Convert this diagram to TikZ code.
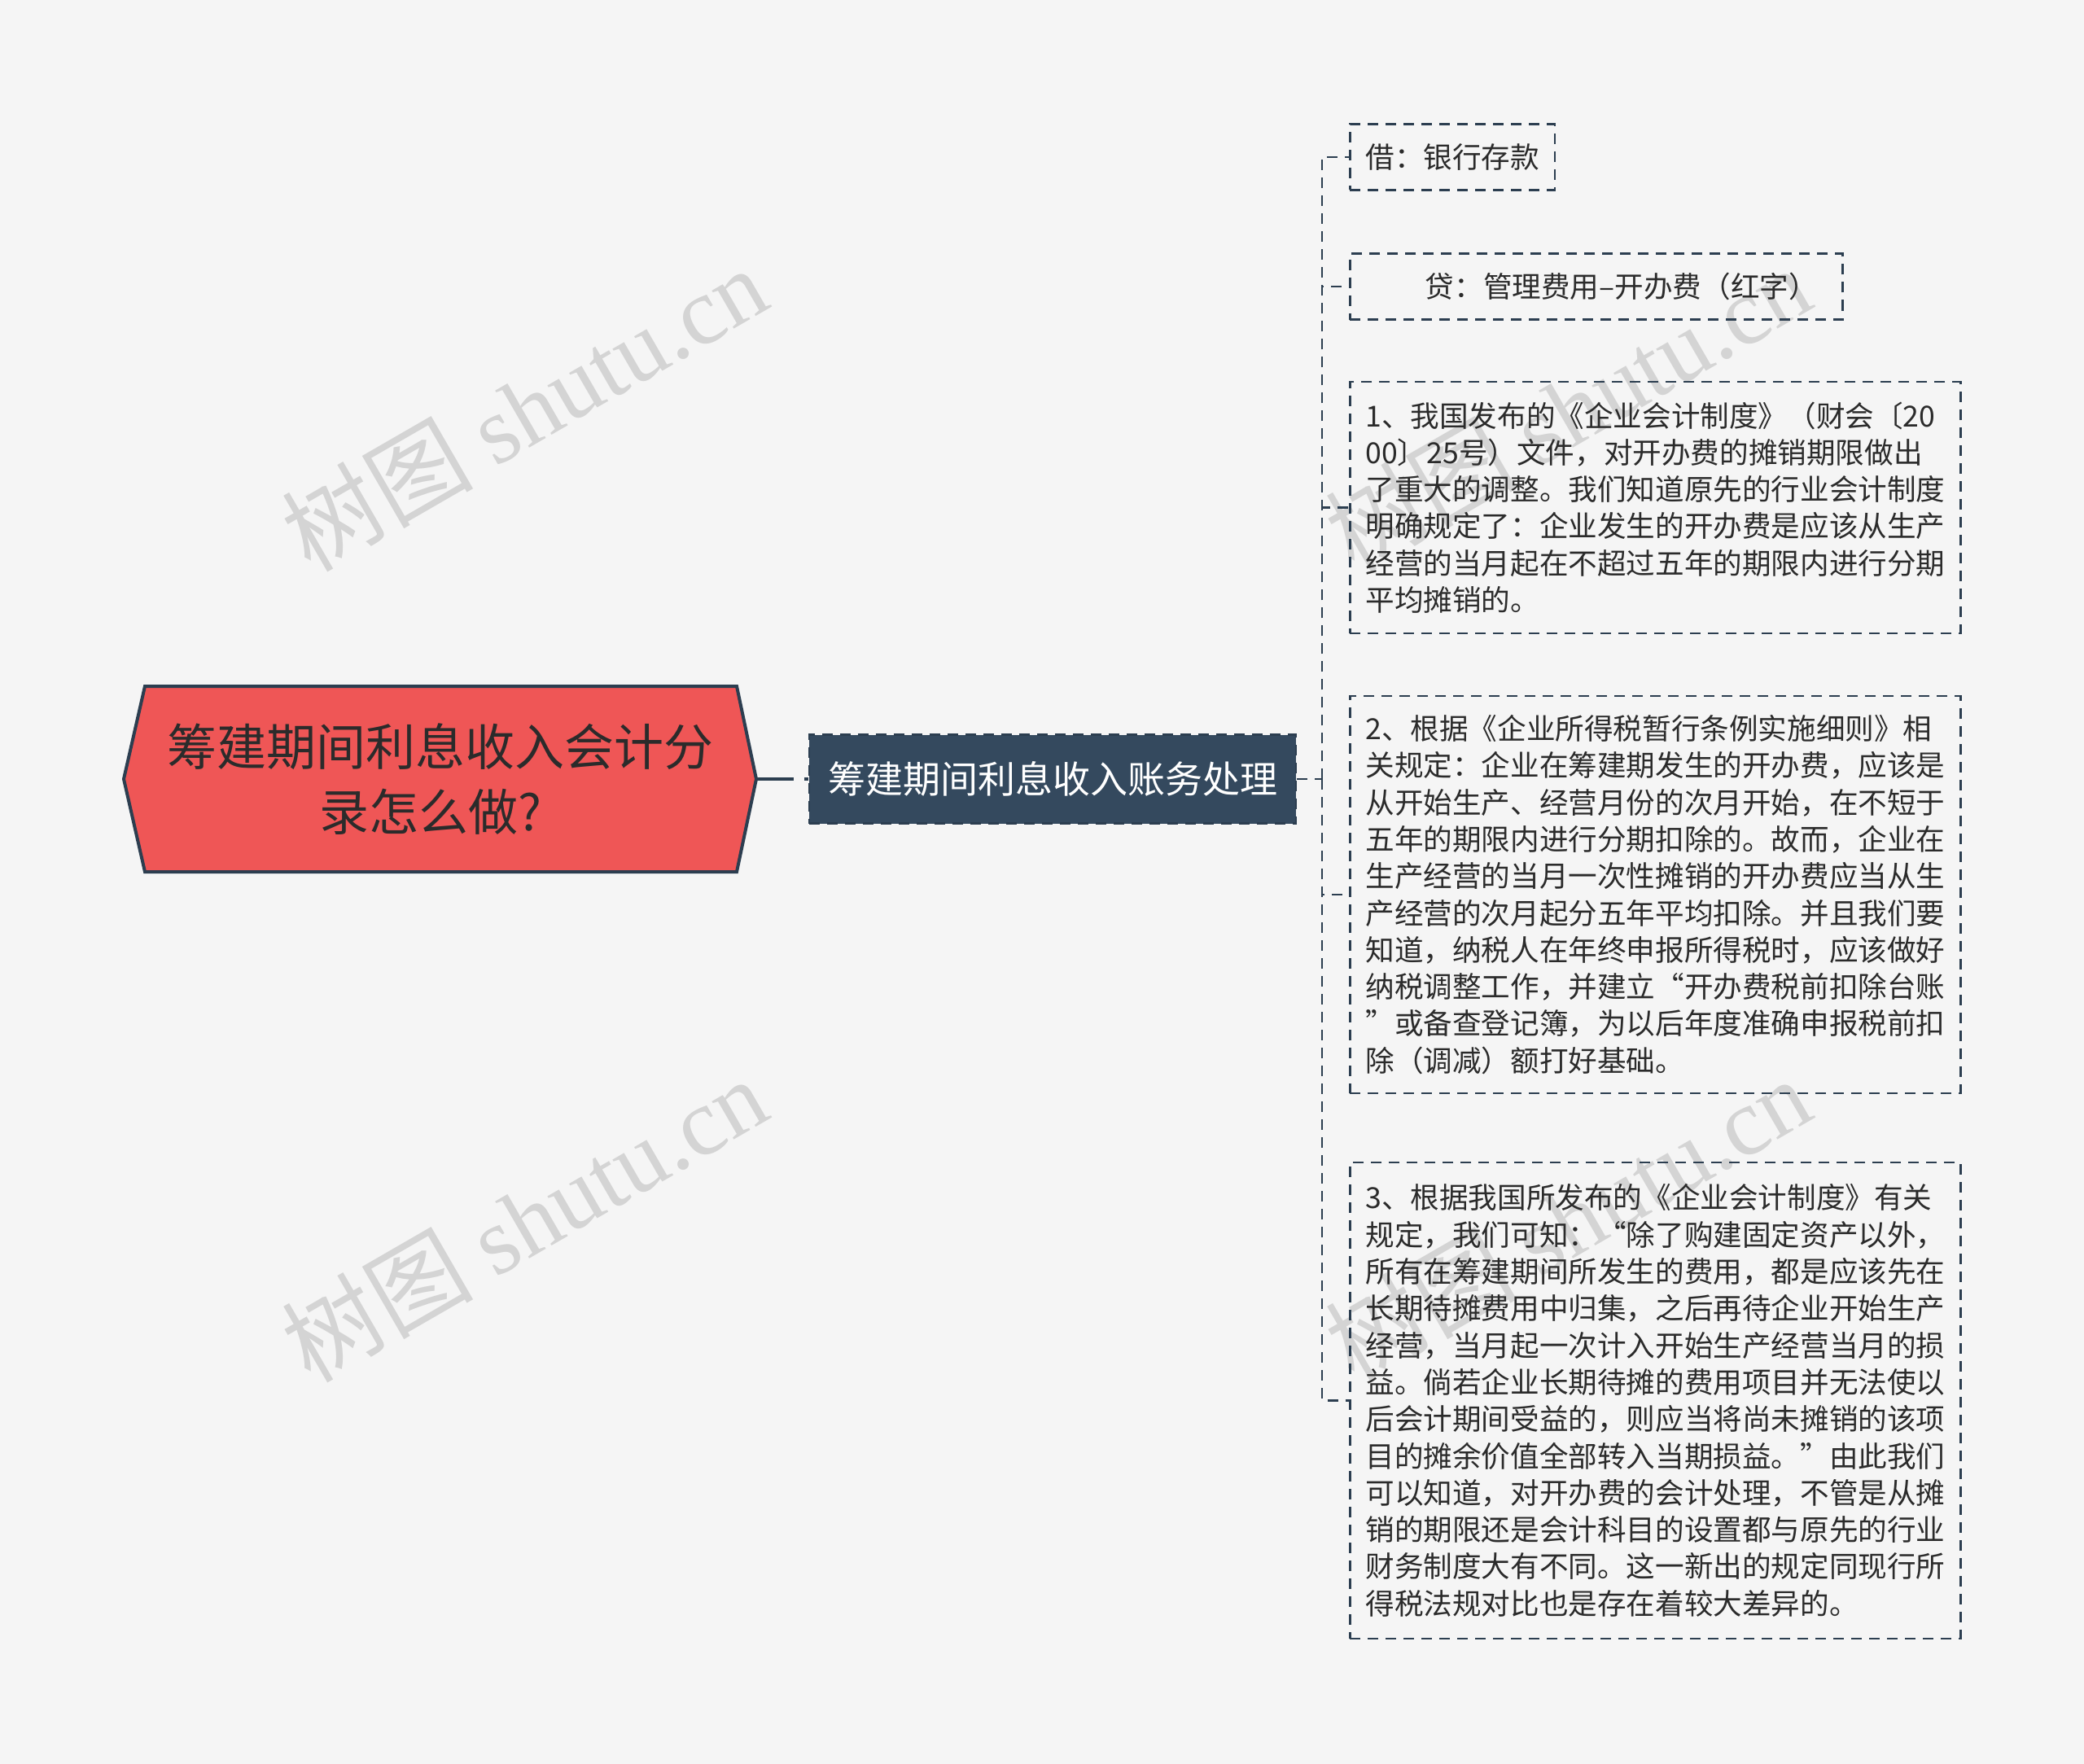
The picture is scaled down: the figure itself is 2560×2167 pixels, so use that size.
\documentclass[tikz,border=0pt]{standalone}
\usepackage{fontspec}
\setmainfont{Noto Sans CJK SC}
\newfontfamily\wmlatin{Liberation Serif}
\definecolor{bgc}{HTML}{F5F5F5}
\definecolor{navy}{HTML}{2C3E50}
\definecolor{subfill}{HTML}{34495E}
\definecolor{rootfill}{HTML}{EF5656}
\definecolor{txt}{HTML}{2B2B2B}
\definecolor{wm}{HTML}{D4D4D4}
\newcommand{\leaffont}{\fontsize{17.8pt}{22.65pt}\selectfont}
\begin{document}
\begin{tikzpicture}[x=0.5pt,y=-0.5pt,
  leafbox/.style={draw=navy, line width=1.4pt, dash pattern=on 6.5pt off 4.5pt,
    text=txt, font=\leaffont, inner xsep=9.5pt, inner ysep=0pt, anchor=west},
  longbox/.style={leafbox, text width=356pt, align=left},
  conn/.style={draw=navy, line width=1.4pt, dash pattern=on 6.5pt off 4.5pt},
  mainconn/.style={draw=navy, line width=2pt, dash pattern=on 23pt off 6.5pt},
  watermark/.style={text=wm, rotate=30, font=\fontsize{58.8pt}{58.8pt}\selectfont, inner sep=0pt}
]
% background / bounding box
\fill[bgc] (0,0) rectangle (2560,2167);
\useasboundingbox (0,0) rectangle (2560,2167);

% watermarks
\node[watermark] (wm1) at (644,502) {树图 {\wmlatin shutu.cn}};
\node[watermark] (wm2) at (644,1498) {树图 {\wmlatin shutu.cn}};
\node[watermark] (wm3) at (1926,502) {树图 {\wmlatin shutu.cn}};
\node[watermark] (wm4) at (1926,1498) {树图 {\wmlatin shutu.cn}};

% root hexagon
\draw[fill=rootfill, draw=navy, line width=2pt, line join=miter]
  (152,957) -- (178,843) -- (905,843) -- (929,957) -- (905,1071) -- (178,1071) -- cycle;
\node[text=txt, align=center, font=\fontsize{30.5pt}{40pt}\selectfont] (root) at (540.5,957)
  {筹建期间利息收入会计分\\录怎么做?\hspace*{12pt}};
\coordinate (rootR) at (929,957);

% sub node
\node[fill=subfill, draw=navy, line width=1.4pt, dash pattern=on 6.5pt off 4.5pt,
  text=white, font=\fontsize{23pt}{27pt}\selectfont,
  minimum width=299pt, minimum height=54.5pt, inner sep=0pt] (sub) at (1293,957)
  {筹建期间利息收入账务处理};

\draw[mainconn] (rootR) -- (sub.west);

% leaves
\node[leafbox, minimum height=40.5pt] (b1) at (1657,193) {借：银行存款};
\node[leafbox, minimum height=40.5pt, minimum width=302.5pt] (b2) at (1657,352)
  {\hspace*{31pt}贷：管理费用–开办费（红字）};
\node[longbox, minimum height=154.5pt] (b3) at (1657,623.5)
  {1、我国发布的《企业会计制度》（财会〔20\\
   00〕25号）文件，对开办费的摊销期限做出\\
   了重大的调整。我们知道原先的行业会计制度\\
   明确规定了：企业发生的开办费是应该从生产\\
   经营的当月起在不超过五年的期限内进行分期\\
   平均摊销的。};
\node[longbox, minimum height=244pt] (b4) at (1657,1099)
  {2、根据《企业所得税暂行条例实施细则》相\\
   关规定：企业在筹建期发生的开办费，应该是\\
   从开始生产、经营月份的次月开始，在不短于\\
   五年的期限内进行分期扣除的。故而，企业在\\
   生产经营的当月一次性摊销的开办费应当从生\\
   产经营的次月起分五年平均扣除。并且我们要\\
   知道，纳税人在年终申报所得税时，应该做好\\
   纳税调整工作，并建立“开办费税前扣除台账\\
   ”或备查登记簿，为以后年度准确申报税前扣\\
   除（调减）额打好基础。};
\node[longbox, minimum height=292.5pt] (b5) at (1657,1720.5)
  {3、根据我国所发布的《企业会计制度》有关\\
   规定，我们可知：“除了购建固定资产以外，\\
   所有在筹建期间所发生的费用，都是应该先在\\
   长期待摊费用中归集，之后再待企业开始生产\\
   经营，当月起一次计入开始生产经营当月的损\\
   益。倘若企业长期待摊的费用项目并无法使以\\
   后会计期间受益的，则应当将尚未摊销的该项\\
   目的摊余价值全部转入当期损益。”由此我们\\
   可以知道，对开办费的会计处理，不管是从摊\\
   销的期限还是会计科目的设置都与原先的行业\\
   财务制度大有不同。这一新出的规定同现行所\\
   得税法规对比也是存在着较大差异的。};

% connectors
\coordinate (spine) at (1624,957);
\draw[conn] (sub.east) -- (spine);
\draw[conn] (spine) |- (b1.west);
\draw[conn] (spine) |- (b2.west);
\draw[conn] (spine) |- (b3.west);
\draw[conn] (spine) |- (b4.west);
\draw[conn] (spine) |- (b5.west);
\end{tikzpicture}
\end{document}
